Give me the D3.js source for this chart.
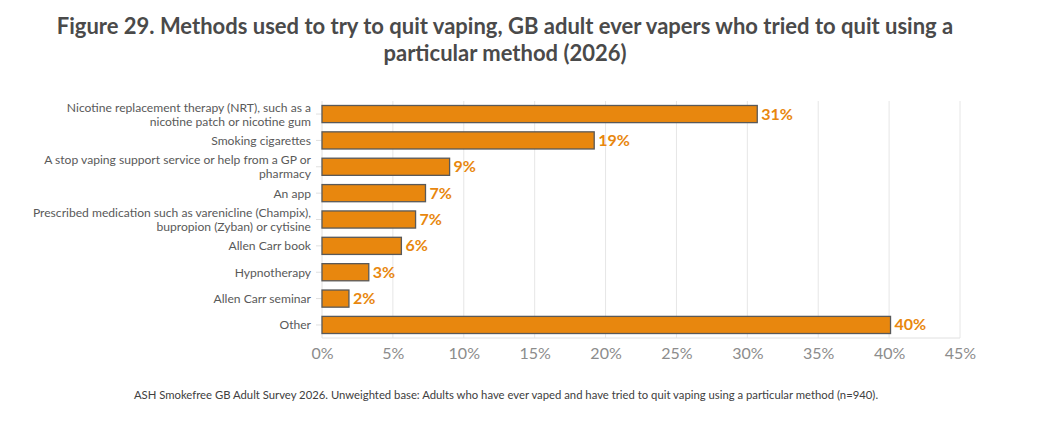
<!DOCTYPE html>
<html>
<head>
<meta charset="utf-8">
<script src="https://cdn.jsdelivr.net/npm/d3@7"></script>
<style>
  body { margin: 0; background: #fff; }
  svg text { font-family: "Source Sans Pro", Lato, "Open Sans", sans-serif; }
</style>
</head>
<body>
<div id="chart"></div>
<script>
var categories = [
  ["Nicotine replacement therapy (NRT), such as a", "nicotine patch or nicotine gum"],
  ["Smoking cigarettes"],
  ["A stop vaping support service or help from a GP or", "pharmacy"],
  ["An app"],
  ["Prescribed medication such as varenicline (Champix),", "bupropion (Zyban) or cytisine"],
  ["Allen Carr book"],
  ["Hypnotherapy"],
  ["Allen Carr seminar"],
  ["Other"]
];
var values = [30.7, 19.2, 9.0, 7.3, 6.6, 5.6, 3.3, 1.9, 40.1];
var valueLabels = ["31%", "19%", "9%", "7%", "7%", "6%", "3%", "2%", "40%"];
var xTicks = [0, 5, 10, 15, 20, 25, 30, 35, 40, 45];
var titleLines = [
  "Figure 29. Methods used to try to quit vaping, GB adult ever vapers who tried to quit using a",
  "particular method (2026)"
];
var footnote = "ASH Smokefree GB Adult Survey 2026. Unweighted base: Adults who have ever vaped and have tried to quit vaping using a particular method (n=940).";

(function () {
  var w = 1045, h = 426;
  var plotLeft = 322, plotRight = 960, plotTop = 101, plotBottom = 338;
  var orange = "#e8870e";
  var fontStack = "\"Source Sans Pro\", Lato, \"Open Sans\", sans-serif";

  var svg = d3.select("#chart").append("svg")
    .attr("width", w)
    .attr("height", h);

  var x = d3.scaleLinear().domain([0, 45]).range([plotLeft, plotRight]);
  var y = d3.scaleBand().domain(d3.range(categories.length))
    .range([plotTop, plotBottom]).paddingInner(0.35).paddingOuter(0.17);

  // title
  svg.append("g").selectAll("text")
    .data(titleLines)
    .enter().append("text")
    .attr("x", 505)
    .attr("y", function (d, i) { return 34 + i * 27; })
    .attr("text-anchor", "middle")
    .attr("font-size", 22)
    .attr("font-weight", "bold")
    .attr("fill", "#4a4a4a")
    .text(function (d) { return d; });

  // gridlines
  svg.append("g").selectAll("line")
    .data(xTicks.slice(1))
    .enter().append("line")
    .attr("x1", function (d) { return x(d); })
    .attr("x2", function (d) { return x(d); })
    .attr("y1", plotTop)
    .attr("y2", plotBottom)
    .attr("stroke", "#e6e6e6")
    .attr("stroke-width", 1);

  // axis lines
  svg.append("line")
    .attr("x1", plotLeft).attr("x2", plotRight)
    .attr("y1", plotBottom).attr("y2", plotBottom)
    .attr("stroke", "#e0e0e0");
  svg.append("line")
    .attr("x1", plotLeft).attr("x2", plotLeft)
    .attr("y1", plotTop).attr("y2", plotBottom)
    .attr("stroke", "#e0e0e0");

  // x axis
  var xAxis = svg.append("g")
    .attr("transform", "translate(0," + plotBottom + ")")
    .call(d3.axisBottom(x).tickValues(xTicks).tickSize(0).tickPadding(10)
      .tickFormat(function (d) { return d + "%"; }));
  xAxis.select(".domain").remove();
  xAxis.selectAll("text")
    .attr("font-size", 16)
    .attr("fill", "#8c8c8c")
    .style("font-family", fontStack);

  // y tick marks at category centres
  svg.append("g").selectAll("line")
    .data(d3.range(categories.length))
    .enter().append("line")
    .attr("x1", plotLeft - 6).attr("x2", plotLeft)
    .attr("y1", function (d) { return y(d) + y.bandwidth() / 2; })
    .attr("y2", function (d) { return y(d) + y.bandwidth() / 2; })
    .attr("stroke", "#e0e0e0");

  // category labels
  svg.append("g").selectAll("text")
    .data(categories)
    .enter().append("text")
    .attr("text-anchor", "end")
    .attr("font-size", 12.1)
    .attr("fill", "#595959")
    .each(function (d, i) {
      var cy = y(i) + y.bandwidth() / 2;
      var t = d3.select(this);
      d.forEach(function (line, j) {
        t.append("tspan")
          .attr("x", 311)
          .attr("y", cy + 4.5 + (j - (d.length - 1) / 2) * 14)
          .text(line);
      });
    });

  // bars
  svg.append("g").selectAll("rect")
    .data(values)
    .enter().append("rect")
    .attr("x", x(0))
    .attr("y", function (d, i) { return y(i); })
    .attr("width", function (d) { return x(d) - x(0); })
    .attr("height", y.bandwidth())
    .attr("fill", orange)
    .attr("stroke", "#595959")
    .attr("stroke-width", 1.3);

  // value labels
  svg.append("g").selectAll("text")
    .data(values)
    .enter().append("text")
    .attr("x", function (d) { return x(d) + 4; })
    .attr("y", function (d, i) { return y(i) + y.bandwidth() / 2 + 5.5; })
    .attr("font-size", 16)
    .attr("font-weight", "bold")
    .attr("fill", orange)
    .text(function (d, i) { return valueLabels[i]; });

  // footnote
  svg.append("text")
    .attr("x", 506)
    .attr("y", 399)
    .attr("text-anchor", "middle")
    .attr("font-size", 11.3)
    .attr("fill", "#404040")
    .text(footnote);
})();
</script>
</body>
</html>
